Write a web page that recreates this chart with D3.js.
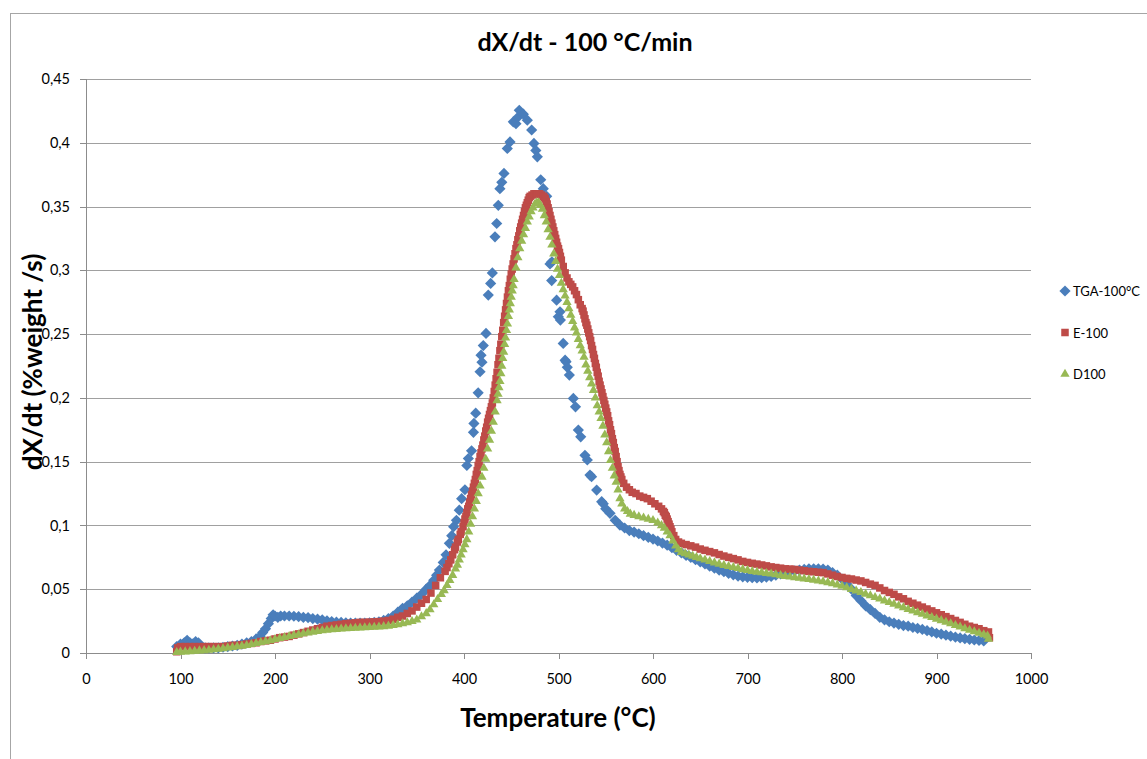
<!DOCTYPE html>
<html>
<head>
<meta charset="utf-8">
<script src="https://cdn.jsdelivr.net/npm/d3@7"></script>
<style>
  body { margin: 0; background: #fff; }
  svg { font-family: Lato, "Open Sans", sans-serif; }
</style>
</head>
<body>
<div id="chart"></div>
<script>
// ---- data (temperature °C, dX/dt %weight/s) ----
const xTicks = [0, 100, 200, 300, 400, 500, 600, 700, 800, 900, 1000];
const yTicks = [0, 0.05, 0.1, 0.15, 0.2, 0.25, 0.3, 0.35, 0.4, 0.45];
const seriesNames = ["TGA-100°C", "E-100", "D100"];

const tga = [
  [96,0.005],[100,0.007],[104,0.008],[107,0.010],[110,0.008],[113,0.007],[116,0.009],[119,0.008],[122,0.005],
  [126,0.004],[130,0.004],[135,0.004],[140,0.004],[145,0.0045],[150,0.005],[155,0.0055],[160,0.006],[165,0.007],
  [170,0.008],[175,0.009],[180,0.011],[184,0.013],[187,0.016],[190,0.019],[193,0.023],[196,0.027],[198,0.030],
  [200,0.029],[203,0.028],[206,0.029],[210,0.029],[215,0.029],[220,0.0288],[225,0.0285],[230,0.028],[235,0.0278],
  [240,0.027],[245,0.0265],[250,0.026],[255,0.0253],[260,0.0247],[265,0.0242],[270,0.024],[275,0.0237],[280,0.0235],
  [285,0.0234],[290,0.0234],[295,0.0235],[300,0.0237],[305,0.024],[310,0.0245],[315,0.0255],[320,0.027],[325,0.029],
  [330,0.032],[335,0.035],[340,0.037],[345,0.040],[350,0.043],[355,0.046],[360,0.050],[364,0.053],[368,0.057],
  [371,0.061],[374,0.065],[378,0.071],[381,0.077],[384.5,0.086],[387,0.092],[389,0.099],[392,0.104],[395,0.112],
  [397.5,0.121],[401,0.128],[403,0.147],[404.6,0.1525],[408,0.1585],[410,0.173],[410.5,0.180],[412.4,0.188],
  [415,0.204],[417,0.2205],[418,0.2335],[419,0.228],[420.4,0.241],[423.3,0.2505],[425.7,0.2806],[428.2,0.2897],
  [430,0.298],[432.8,0.3263],[434.6,0.3367],[436.3,0.351],[438,0.364],[440,0.369],[442.3,0.376],[445.8,0.3955],
  [448.7,0.4007],[452.2,0.4164],[455,0.415],[457,0.42],[458.5,0.4255],[462.8,0.4224],[467,0.4177],[471.6,0.41],
  [474,0.3995],[476,0.394],[477.6,0.389],[481.2,0.371],[483.9,0.364],[487.5,0.358],[491,0.305],[492.8,0.292],
  [493,0.3067],[498,0.2766],[499.8,0.2636],[501.6,0.2675],[502,0.261],[505,0.2427],[507,0.2296],[508,0.2283],
  [509.3,0.224],[511.5,0.2179],[515.7,0.1996],[518,0.193],[521,0.1748],[523.5,0.1695],[528,0.155],[530.5,0.1513],
  [533.3,0.1395],[535,0.1382],[540.4,0.1277],[545.7,0.1186],[547.4,0.117],[550,0.113],[554.5,0.1095],[560,0.104],
  [565,0.1003],[570,0.098],[575,0.096],[580,0.0948],[585,0.0935],[590,0.092],[595,0.0907],[600,0.0893],[605,0.0878],
  [610,0.0862],[615,0.0845],[620,0.0825],[625,0.0805],[630,0.0785],[635,0.0765],[640,0.075],[645,0.0732],[650,0.0715],
  [655,0.0698],[660,0.068],[665,0.0665],[670,0.065],[675,0.0637],[680,0.0625],[685,0.0613],[690,0.0603],[695,0.0597],
  [700,0.0593],[705,0.059],[710,0.0588],[715,0.059],[720,0.0595],[725,0.06],[730,0.061],[735,0.062],[740,0.063],
  [745,0.064],[750,0.0645],[755,0.065],[760,0.0655],[765,0.066],[770,0.066],[775,0.066],[780,0.0658],[785,0.065],
  [790,0.063],[795,0.061],[800,0.058],[805,0.054],[810,0.050],[815,0.045],[820,0.041],[825,0.037],[830,0.034],
  [835,0.031],[840,0.028],[845,0.026],[850,0.0245],[855,0.0235],[860,0.0225],[865,0.0215],[870,0.021],[875,0.020],
  [880,0.0193],[885,0.0185],[890,0.0175],[895,0.0165],[900,0.0155],[905,0.0148],[910,0.014],[915,0.0132],[920,0.0125],
  [925,0.0118],[930,0.0112],[935,0.0107],[940,0.0102],[945,0.0098],[950,0.0095]
];

const e100 = [
  [96,0.001],[97,0.004],[100,0.005],[105,0.005],[110,0.005],[115,0.005],[120,0.005],[125,0.005],[130,0.005],
  [135,0.005],[140,0.005],[145,0.005],[150,0.0055],[155,0.006],[160,0.006],[165,0.0065],[170,0.007],[175,0.0075],
  [180,0.008],[185,0.009],[190,0.0095],[195,0.010],[200,0.011],[205,0.012],[210,0.0125],[215,0.013],[220,0.014],
  [225,0.015],[230,0.016],[235,0.017],[240,0.018],[245,0.019],[250,0.020],[255,0.021],[260,0.0215],[265,0.022],
  [270,0.0225],[275,0.023],[280,0.0233],[285,0.0236],[290,0.024],[295,0.024],[300,0.0242],[305,0.0244],[310,0.0246],
  [315,0.025],[320,0.0255],[325,0.0265],[330,0.028],[335,0.029],[340,0.031],[345,0.033],[350,0.036],[355,0.039],
  [360,0.042],[365,0.047],[370,0.053],[375,0.059],[380,0.064],[382,0.067],[384,0.070],[386,0.073],[388,0.077],
  [390,0.081],[391,0.083],[393,0.087],[394,0.089],[396,0.093],[397,0.095],[399,0.099],
  [400,0.102],[401,0.105],[402,0.107],[403,0.110],[404,0.113],[405,0.115],[406,0.118],[407,0.121],[408,0.124],
  [409,0.127],[410,0.130],[411,0.133],[412,0.136],[413,0.140],[414,0.143],[415,0.147],[416,0.150],[417,0.154],
  [418,0.157],[419,0.160],[420,0.163],[421,0.167],[422,0.170],[423,0.174],[424,0.177],[425,0.181],[426,0.184],
  [427,0.187],[428,0.190],[429,0.193],[430,0.196],[431,0.200],[432,0.205],[433,0.210],[434,0.215],[435,0.220],
  [436,0.226],[437,0.231],[438,0.237],[439,0.242],[440,0.248],[441,0.253],[442,0.259],[443,0.264],[444,0.269],
  [445,0.274],[446,0.279],[447,0.284],[448,0.288],[449,0.293],[450,0.297],[451,0.301],[452,0.305],[453,0.309],
  [454,0.313],[455,0.317],[456,0.320],[457,0.324],[458,0.327],[459,0.331],[460,0.334],[461,0.337],[462,0.340],
  [463,0.343],[464,0.346],[465,0.349],[466,0.351],[467,0.353],[468,0.355],[469,0.357],[470,0.358],
  [472,0.359],[474,0.360],[476,0.360],[478,0.360],[480,0.360],[482,0.359],[484,0.358],[485,0.357],[486,0.356],
  [487,0.354],[488,0.352],[489,0.349],[490,0.346],[491,0.343],[492,0.340],[493,0.337],[494,0.334],[495,0.331],
  [496,0.328],[497,0.325],[498,0.322],[499,0.319],[500,0.317],[501,0.314],[502,0.311],[503,0.308],[505,0.303],
  [507,0.298],[509,0.294],[511,0.291],[513,0.289],[515,0.287],[517,0.284],[519,0.281],[521,0.277],[523,0.273],
  [525,0.270],[526,0.268],[527,0.265],[528,0.262],[529,0.259],[530,0.257],[531,0.254],[532,0.251],[533,0.248],
  [534,0.245],[535,0.241],[536,0.238],[537,0.234],[538,0.231],[539,0.227],[540,0.224],[541,0.220],[542,0.217],
  [543,0.213],[544,0.210],[545,0.207],[546,0.204],[547,0.201],[548,0.198],[549,0.195],[550,0.192],[551,0.189],
  [552,0.186],[553,0.182],[554,0.179],[555,0.175],[556,0.172],[557,0.168],[558,0.165],[559,0.161],[560,0.158],
  [561,0.154],[562,0.150],[563,0.146],[564,0.143],[565,0.140],[566,0.138],
  [567,0.136],[569,0.133],[572,0.130],[575,0.128],[578,0.126],[582,0.125],[586,0.123],[590,0.122],[594,0.121],
  [598,0.119],[602,0.117],[606,0.115],[609,0.113],[611,0.111],[612,0.110],[613,0.108],[614,0.107],[615,0.105],
  [616,0.103],[617,0.101],[618,0.099],[619,0.097],[620,0.095],
  [622,0.092],[624,0.089],[627,0.087],[630,0.086],[635,0.085],[640,0.084],[645,0.083],[650,0.0815],[655,0.0805],
  [660,0.0795],[665,0.0785],[670,0.0772],[675,0.076],[680,0.075],[685,0.074],[690,0.073],[695,0.0718],[700,0.071],
  [705,0.0703],[710,0.0697],[715,0.069],[720,0.0683],[725,0.0675],[730,0.067],[735,0.0665],[740,0.066],[745,0.0658],
  [750,0.0655],[755,0.065],[760,0.0645],[765,0.064],[770,0.0637],[775,0.0633],[780,0.063],[785,0.062],[790,0.061],
  [795,0.060],[800,0.0592],[805,0.0585],[810,0.058],[815,0.0572],[820,0.0565],[825,0.0553],[830,0.054],[835,0.053],
  [840,0.051],[845,0.049],[850,0.0475],[855,0.046],[860,0.044],[865,0.0425],[870,0.0405],[875,0.039],[880,0.0375],
  [885,0.036],[890,0.0345],[895,0.033],[900,0.0315],[905,0.030],[910,0.0285],[915,0.027],[920,0.0255],[925,0.024],
  [930,0.0225],[935,0.021],[940,0.020],[945,0.019],[950,0.0175],[955,0.0165],[956,0.012]
];

const d100 = [
  [96,0.0005],[100,0.0008],[105,0.001],[110,0.0012],[115,0.0015],[120,0.0018],[125,0.002],[130,0.0023],[135,0.0027],
  [140,0.003],[145,0.0035],[150,0.004],[155,0.0045],[160,0.005],[165,0.0055],[170,0.006],[175,0.0068],[180,0.0075],
  [185,0.0083],[190,0.009],[195,0.0098],[200,0.0107],[205,0.0115],[210,0.0123],[215,0.013],[220,0.0138],[225,0.0145],
  [230,0.0152],[235,0.0158],[240,0.0165],[245,0.017],[250,0.0175],[255,0.018],[260,0.0183],[265,0.0186],[270,0.0189],
  [275,0.0191],[280,0.0193],[285,0.0195],[290,0.0197],[295,0.0199],[300,0.0201],[305,0.0203],[310,0.0205],[315,0.0208],
  [320,0.0212],[325,0.0217],[330,0.0223],[335,0.023],[340,0.0238],[345,0.0248],[350,0.026],[355,0.0285],[360,0.031],
  [364,0.034],[368,0.038],[372,0.042],[376,0.046],[379,0.049],[382,0.053],[385,0.057],[388,0.061],[391,0.066],
  [393,0.069],[395,0.073],[397,0.077],[399,0.081],[401,0.085],[403,0.089],[405,0.095],[407,0.101],[409,0.107],
  [411,0.113],[413,0.119],[415,0.125],[417,0.131],[419,0.138],[421,0.145],[423,0.152],[425,0.160],[427,0.167],
  [429,0.174],[431,0.181],[433,0.189],[435,0.198],[436,0.203],[437,0.208],[438,0.213],[439,0.219],[440,0.225],
  [441,0.231],[442,0.236],[443,0.242],[444,0.247],[445,0.253],[446,0.258],[447,0.264],[448,0.269],[449,0.274],
  [450,0.279],[451,0.284],[452,0.288],[453,0.293],[455,0.302],[457,0.310],[459,0.317],[461,0.323],[463,0.328],
  [465,0.333],[467,0.338],[469,0.342],[471,0.346],[473,0.349],[475,0.352],[477,0.353],[479,0.353],[481,0.351],
  [483,0.348],[485,0.343],[487,0.338],[489,0.332],[491,0.326],[493,0.320],[495,0.313],[497,0.307],[499,0.301],
  [501,0.296],[503,0.290],[505,0.285],[507,0.280],[509,0.275],[511,0.270],[513,0.265],[515,0.260],[517,0.255],
  [519,0.251],[521,0.246],[523,0.241],[525,0.237],[527,0.232],[529,0.226],[531,0.221],[533,0.216],[535,0.211],
  [537,0.206],[539,0.200],[541,0.194],[543,0.189],[545,0.184],[547,0.178],[549,0.171],[551,0.165],[553,0.158],
  [555,0.151],[557,0.145],[559,0.139],[561,0.134],[563,0.128],[565,0.121],[567,0.117],[570,0.113],[573,0.111],
  [576,0.109],[580,0.108],[585,0.107],[590,0.106],[595,0.105],[600,0.104],[605,0.102],[609,0.100],[612,0.098],
  [615,0.095],[618,0.092],[621,0.088],[624,0.084],[627,0.081],[630,0.079],[634,0.078],[638,0.077],[642,0.076],
  [646,0.075],[650,0.074],[655,0.073],[660,0.0718],[665,0.0708],[670,0.0698],[675,0.0688],[680,0.068],[685,0.0672],
  [690,0.0663],[695,0.0655],[700,0.0648],[705,0.064],[710,0.0635],[715,0.063],[720,0.0625],[725,0.062],[730,0.0614],
  [735,0.0608],[740,0.0602],[745,0.0597],[750,0.0592],[755,0.0587],[760,0.0582],[765,0.0577],[770,0.0572],[775,0.0566],
  [780,0.056],[785,0.0553],[790,0.0545],[795,0.0535],[800,0.0525],[805,0.0513],[810,0.05],[815,0.0487],[820,0.0475],
  [825,0.0462],[830,0.045],[835,0.0437],[840,0.0424],[845,0.041],[850,0.0397],[855,0.0384],[860,0.037],[865,0.0357],
  [870,0.0343],[875,0.033],[880,0.0317],[885,0.0305],[890,0.0292],[895,0.028],[900,0.0267],[905,0.0255],[910,0.0242],
  [915,0.023],[920,0.0217],[925,0.0205],[930,0.0192],[935,0.018],[940,0.0168],[945,0.0156],[950,0.0145],[954,0.0135],
  [955,0.011]
];

// ---- layout ----
const W = 1147, H = 759;
const margin = {top: 79, right: 116, bottom: 106, left: 86};
const width = W - margin.left - margin.right;   // 945
const height = H - margin.top - margin.bottom;  // 574

const svg = d3.select("#chart").append("svg")
    .attr("width", W)
    .attr("height", H);

// outer chart frame
svg.append("rect")
    .attr("x", 10.5).attr("y", 13.5)
    .attr("width", W + 10).attr("height", H + 10)
    .attr("fill", "none")
    .attr("stroke", "#a6a6a6");

const g = svg.append("g")
    .attr("transform", `translate(${margin.left},${margin.top})`);

const x = d3.scaleLinear().domain([0, 1000]).range([0, width]);
const y = d3.scaleLinear().domain([0, 0.45]).range([height, 0]);

const fmt = v => String(+v.toFixed(2)).replace(".", ",");

// grid lines
g.append("g")
    .call(d3.axisLeft(y).tickValues(yTicks).tickSize(-width).tickFormat(""))
    .call(s => s.select(".domain").remove())
    .call(s => s.selectAll("line").attr("stroke", "#a0a0a0").attr("shape-rendering", "crispEdges"));

// y axis
g.append("g")
    .call(d3.axisLeft(y).tickValues(yTicks).tickSize(6).tickPadding(10).tickFormat(fmt))
    .call(s => s.select(".domain").attr("stroke", "#8c8c8c").attr("shape-rendering", "crispEdges"))
    .call(s => s.selectAll("line").attr("stroke", "#8c8c8c").attr("shape-rendering", "crispEdges"))
    .call(s => s.selectAll("text").attr("font-size", 14.5).attr("fill", "#000").attr("font-family", "Lato, sans-serif"));

// x axis
g.append("g")
    .attr("transform", `translate(0,${height})`)
    .call(d3.axisBottom(x).tickValues(xTicks).tickSize(6).tickPadding(15).tickFormat(d3.format("d")))
    .call(s => s.select(".domain").attr("stroke", "#8c8c8c").attr("shape-rendering", "crispEdges"))
    .call(s => s.selectAll("line").attr("stroke", "#8c8c8c").attr("shape-rendering", "crispEdges"))
    .call(s => s.selectAll("text").attr("font-size", 14.5).attr("fill", "#000").attr("font-family", "Lato, sans-serif"));

// markers
const symDiamond = d3.symbol().type(d3.symbolDiamond2).size(80);
const symSquare = d3.symbol().type(d3.symbolSquare2).size(72);
const symTriangle = d3.symbol().type(d3.symbolTriangle2).size(62);

const series = [
  {name: seriesNames[0], data: tga, color: "#4a7ebb", sym: symDiamond},
  {name: seriesNames[1], data: e100, color: "#be4b48", sym: symSquare},
  {name: seriesNames[2], data: d100, color: "#98b954", sym: symTriangle}
];

series.forEach(s => {
  g.append("g").selectAll("path")
      .data(s.data)
      .enter().append("path")
      .attr("d", s.sym)
      .attr("transform", d => `translate(${x(d[0])},${y(d[1])})`)
      .attr("fill", s.color);
});

// title
svg.append("text")
    .attr("x", 585).attr("y", 51)
    .attr("text-anchor", "middle")
    .attr("font-size", 25).attr("font-weight", "bold")
    .text("dX/dt - 100 °C/min");

// axis titles
svg.append("text")
    .attr("transform", "translate(42,362) rotate(-90)")
    .attr("text-anchor", "middle")
    .attr("font-size", 26).attr("font-weight", "bold")
    .text("dX/dt (%weight /s)");

svg.append("text")
    .attr("x", 558).attr("y", 727)
    .attr("text-anchor", "middle")
    .attr("font-size", 26).attr("font-weight", "bold")
    .text("Temperature (°C)");

// legend
const legend = svg.append("g").attr("transform", "translate(1065,291)");
series.forEach((s, i) => {
  const row = legend.append("g").attr("transform", `translate(0,${i * 41.5})`);
  row.append("path")
      .attr("d", s.sym)
      .attr("fill", s.color);
  row.append("text")
      .attr("x", 8).attr("y", 5)
      .attr("font-size", 13)
      .text(s.name);
});
</script>
</body>
</html>
